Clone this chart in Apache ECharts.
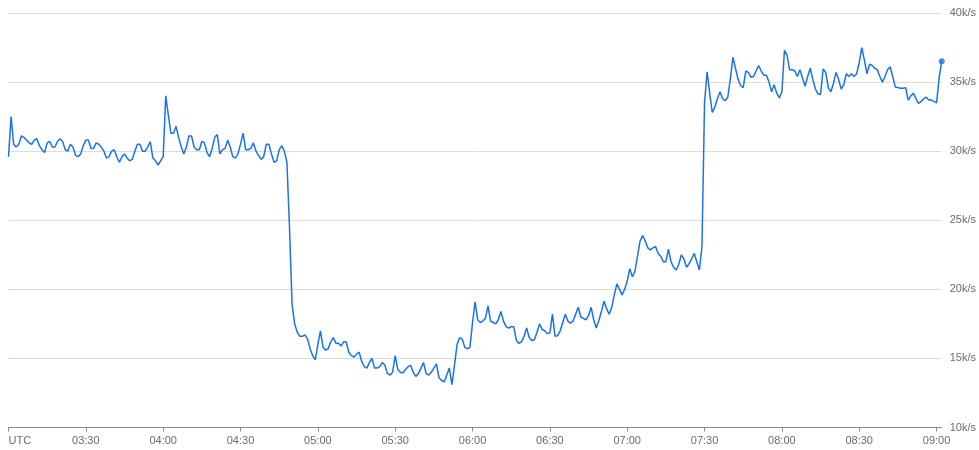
<!DOCTYPE html>
<html>
<head>
<meta charset="utf-8">
<script src="https://cdn.jsdelivr.net/npm/echarts@6/dist/echarts.min.js"></script>
<style>
html,body{margin:0;padding:0;background:#fff;}
#chart{width:979px;height:450px;}
</style>
</head>
<body>
<div id="chart"></div>
<script>
// Start of series: minutes after 00:00 UTC, one value per minute
const startMinute = 180; // 03:00 UTC
const endMinute = 542;   // 09:02 UTC
// Throughput in thousands per second (k/s)
const rateK = [
  29.6,32.5,30.5,30.3,30.5,31.1,31.0,30.8,30.6,30.5,
  30.8,30.9,30.4,30.1,29.9,30.6,30.7,30.3,30.3,30.7,
  30.9,30.7,30.1,30.0,30.5,30.3,29.7,29.6,29.8,30.4,
  30.8,30.8,30.2,30.2,30.6,30.5,30.3,30.0,29.5,29.6,
  30.0,30.1,29.6,29.2,29.6,29.8,29.5,29.3,29.4,30.0,
  30.5,30.5,30.0,30.0,30.3,30.7,29.5,29.3,29.0,29.3,
  29.6,34.0,32.6,31.3,31.3,31.8,31.0,30.3,29.8,30.3,
  31.1,31.1,30.3,30.1,30.1,30.7,30.6,29.9,29.6,30.2,
  31.0,31.2,29.8,30.1,30.2,30.8,30.3,29.6,29.5,29.8,
  30.5,31.3,30.1,30.1,30.2,30.6,30.0,29.7,29.4,29.6,
  30.5,30.5,29.8,29.2,29.3,30.1,30.4,30.0,29.2,24.5,
  18.9,17.5,16.9,16.6,16.6,16.7,16.4,15.7,15.2,14.9,
  16.0,17.0,15.8,15.6,15.7,16.2,16.5,16.1,16.1,15.9,
  16.2,16.2,15.45,15.2,15.1,15.3,15.45,14.8,14.4,14.3,
  14.7,15.0,14.3,14.3,14.4,14.7,14.5,13.9,13.8,14.0,
  15.2,14.2,14.0,13.95,14.2,14.4,14.5,14.0,13.7,13.9,
  14.3,14.7,13.9,13.8,14.0,14.3,14.6,13.6,13.4,13.3,
  13.8,14.3,13.1,14.5,16.0,16.5,16.4,15.8,15.7,15.8,
  17.6,19.1,17.8,17.6,17.7,17.9,18.8,17.7,17.6,17.5,
  17.8,18.4,17.7,17.3,17.2,17.3,17.3,16.3,16.1,16.2,
  16.6,17.2,16.5,16.3,16.35,16.9,17.5,17.1,17.0,16.8,
  16.85,18.2,16.6,16.65,17.0,17.6,18.2,17.7,17.55,17.7,
  18.2,18.7,18.0,17.9,17.8,18.1,18.7,17.8,17.2,17.75,
  18.4,19.15,18.6,18.2,18.7,19.6,20.4,20.0,19.6,20.0,
  20.6,21.5,20.9,21.3,22.4,23.5,23.9,23.5,23.0,22.85,
  23.0,23.1,22.6,22.4,22.0,22.0,22.9,22.0,21.6,21.4,
  21.8,22.5,22.2,21.6,21.85,22.2,22.6,22.0,21.4,23.1,
  33.5,35.75,34.2,32.8,33.2,33.8,34.3,33.8,33.65,33.9,
  35.2,36.8,36.0,35.2,34.75,34.6,35.8,35.7,35.35,35.4,
  35.8,36.2,35.8,35.5,35.5,35.0,34.3,34.8,34.2,33.85,
  34.3,37.3,36.95,35.9,35.9,35.8,35.4,35.9,35.3,34.7,
  35.4,36.0,35.2,34.5,34.15,34.1,35.95,35.7,34.6,34.3,
  34.9,35.7,35.2,34.5,34.8,35.6,35.4,35.6,35.4,35.6,
  36.4,37.5,36.6,35.6,36.3,36.2,36.0,35.9,35.4,35.0,
  35.4,35.9,36.1,35.4,34.65,34.6,34.55,34.55,34.6,33.7,
  34.0,34.2,33.8,33.45,33.6,33.8,33.9,33.7,33.7,33.6,
  33.5,35.3,36.5
];
// X tick positions (minutes after 00:00 UTC) and labels
const xTicks = [180,210,240,270,300,330,360,390,420,450,480,510,540];
const xTickLabels = ['UTC','03:30','04:00','04:30','05:00','05:30','06:00','06:30','07:00','07:30','08:00','08:30','09:00'];
// Y axis
const yMin = 10, yMax = 40, yStep = 5, yUnit = 'k/s';

const seriesData = rateK.map((v, i) => [startMinute + i, v]);
const lastPoint = seriesData[seriesData.length - 1];

const font = '"Liberation Sans", Arial, sans-serif';
const chart = echarts.init(document.getElementById('chart'));
chart.setOption({
  animation: false,
  grid: { left: 8.5, right: 37, top: 13, bottom: 22.5, containLabel: false },
  xAxis: {
    type: 'value',
    min: startMinute,
    max: endMinute,
    interval: 30,
    axisLine: { show: true, lineStyle: { color: '#8a8a8a', width: 1 } },
    axisTick: { show: true, length: 4, lineStyle: { color: '#8a8a8a' }, customValues: xTicks },
    splitLine: { show: false },
    axisLabel: {
      customValues: xTicks,
      color: '#6b6b6b',
      fontSize: 11,
      fontFamily: font,
      margin: 8,
      alignMinLabel: 'left',
      formatter: function (v) {
        const idx = xTicks.indexOf(Math.round(v));
        return idx >= 0 ? xTickLabels[idx] : '';
      }
    }
  },
  yAxis: {
    type: 'value',
    position: 'right',
    min: yMin,
    max: yMax,
    interval: yStep,
    axisLine: { show: false },
    axisTick: { show: false },
    splitLine: { show: true, lineStyle: { color: '#dcdcdc', width: 1 } },
    axisLabel: {
      color: '#6b6b6b',
      fontSize: 11,
      fontFamily: font,
      margin: 8,
      formatter: function (v) { return v + yUnit; }
    }
  },
  series: [
    {
      type: 'line',
      data: seriesData,
      showSymbol: false,
      symbol: 'none',
      lineStyle: { color: '#1a73e8', width: 1.5 },
      itemStyle: { color: '#1a73e8' }
    },
    {
      type: 'scatter',
      data: [lastPoint],
      symbol: 'circle',
      symbolSize: 6,
      itemStyle: { color: '#1a73e8' }
    }
  ]
});
</script>
</body>
</html>
